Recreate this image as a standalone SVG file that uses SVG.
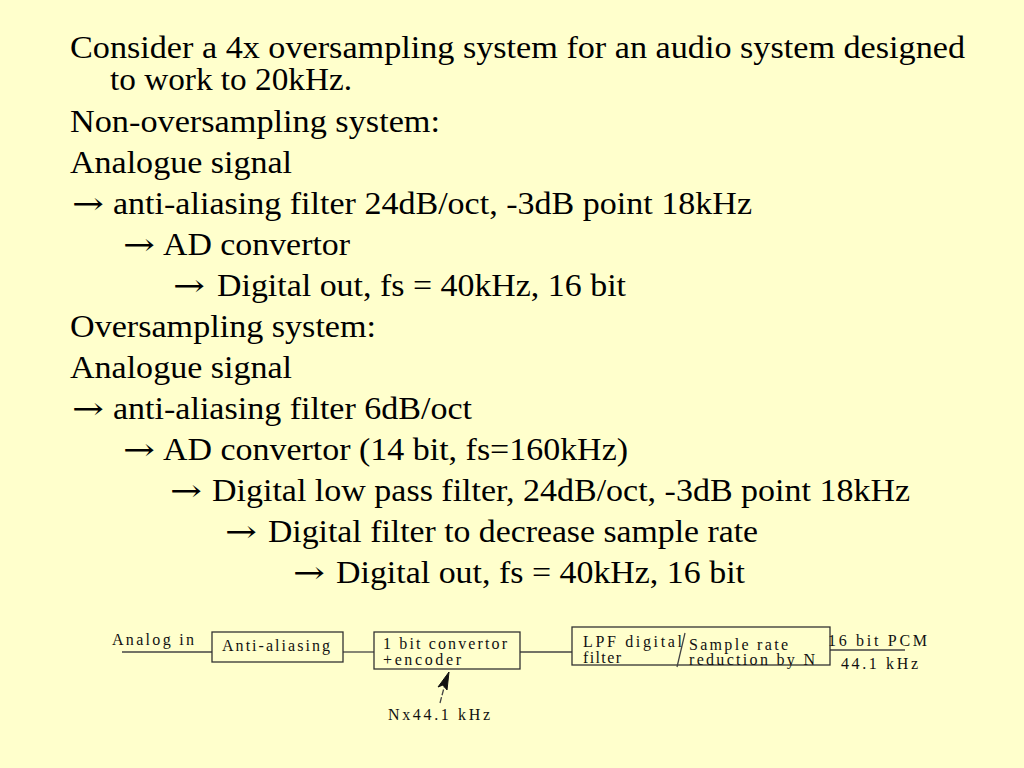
<svg xmlns="http://www.w3.org/2000/svg" width="1024" height="768" viewBox="0 0 1024 768">
<style>
.t{font-family:"Liberation Serif","DejaVu Serif",serif;font-size:32px;fill:#000}
.a{font-family:"DejaVu Serif","DejaVu Sans",serif;font-size:30px;fill:#000}
.s{font-family:"Liberation Serif","DejaVu Serif",serif;font-size:16px;fill:#111}
.box{fill:none;stroke:#333;stroke-width:1.3}
.ln{fill:none;stroke:#444;stroke-width:1.3}
</style>
<rect x="0" y="0" width="1024" height="768" fill="#FFFFCC"/>
<g id="text">
<text class="t" x="70" y="58" textLength="895" lengthAdjust="spacingAndGlyphs">Consider a 4x oversampling system for an audio system designed</text>
<text class="t" x="110" y="90" textLength="242" lengthAdjust="spacingAndGlyphs">to work to 20kHz.</text>
<text class="t" x="70" y="132" textLength="370" lengthAdjust="spacingAndGlyphs">Non-oversampling system:</text>
<text class="t" x="70" y="173" textLength="222" lengthAdjust="spacingAndGlyphs">Analogue signal</text>
<text class="a" x="72" y="214" textLength="32" lengthAdjust="spacingAndGlyphs">→</text>
<text class="t" x="113" y="214" textLength="639" lengthAdjust="spacingAndGlyphs">anti-aliasing filter 24dB/oct, -3dB point 18kHz</text>
<text class="a" x="123" y="255" textLength="32" lengthAdjust="spacingAndGlyphs">→</text>
<text class="t" x="163" y="255" textLength="187" lengthAdjust="spacingAndGlyphs">AD convertor</text>
<text class="a" x="173" y="296" textLength="32" lengthAdjust="spacingAndGlyphs">→</text>
<text class="t" x="217" y="296" textLength="409" lengthAdjust="spacingAndGlyphs">Digital out, fs = 40kHz, 16 bit</text>
<text class="t" x="70" y="337" textLength="306" lengthAdjust="spacingAndGlyphs">Oversampling system:</text>
<text class="t" x="70" y="378" textLength="222" lengthAdjust="spacingAndGlyphs">Analogue signal</text>
<text class="a" x="72" y="419" textLength="32" lengthAdjust="spacingAndGlyphs">→</text>
<text class="t" x="113" y="419" textLength="359" lengthAdjust="spacingAndGlyphs">anti-aliasing filter 6dB/oct</text>
<text class="a" x="123" y="460" textLength="32" lengthAdjust="spacingAndGlyphs">→</text>
<text class="t" x="163" y="460" textLength="465" lengthAdjust="spacingAndGlyphs">AD convertor (14 bit, fs=160kHz)</text>
<text class="a" x="170" y="501" textLength="32" lengthAdjust="spacingAndGlyphs">→</text>
<text class="t" x="212" y="501" textLength="698" lengthAdjust="spacingAndGlyphs">Digital low pass filter, 24dB/oct, -3dB point 18kHz</text>
<text class="a" x="225" y="542" textLength="32" lengthAdjust="spacingAndGlyphs">→</text>
<text class="t" x="268" y="542" textLength="490" lengthAdjust="spacingAndGlyphs">Digital filter to decrease sample rate</text>
<text class="a" x="293" y="583" textLength="32" lengthAdjust="spacingAndGlyphs">→</text>
<text class="t" x="336" y="583" textLength="409" lengthAdjust="spacingAndGlyphs">Digital out, fs = 40kHz, 16 bit</text>
</g>
<g id="connectors">
<line class="ln" x1="122" y1="652" x2="212" y2="652"/>
<line class="ln" x1="343" y1="652" x2="374" y2="652"/>
<line class="ln" x1="520" y1="652" x2="572" y2="652"/>
<line class="ln" x1="830" y1="650" x2="905" y2="650"/>
<line class="ln" x1="440" y1="703" x2="445" y2="684" stroke-dasharray="6 2"/>
<polygon points="449,672 438,687 443,685 447,690" fill="#111" stroke="#111" stroke-width="1"/>
</g>
<g id="label-analog-in">
<text class="s" x="112" y="645" textLength="82" lengthAdjust="spacing">Analog in</text>
</g>
<g id="node-anti-aliasing">
<rect class="box" x="212" y="632" width="131" height="30"/>
<text class="s" x="222" y="651" textLength="108" lengthAdjust="spacing">Anti-aliasing</text>
</g>
<g id="node-convertor">
<rect class="box" x="374" y="632" width="146" height="37"/>
<text class="s" x="383" y="649" textLength="124" lengthAdjust="spacing">1 bit convertor</text>
<text class="s" x="383" y="665" textLength="78" lengthAdjust="spacing">+encoder</text>
</g>
<g id="label-clock">
<text class="s" x="388" y="720" textLength="102" lengthAdjust="spacing">Nx44.1 kHz</text>
</g>
<g id="node-lpf">
<rect class="box" x="572" y="627" width="258" height="38"/>
<line class="ln" x1="685" y1="633" x2="677" y2="667"/>
<text class="s" x="583" y="647" textLength="99" lengthAdjust="spacing">LPF digital</text>
<text class="s" x="583" y="663" textLength="38" lengthAdjust="spacing">filter</text>
<text class="s" x="689" y="650" textLength="99" lengthAdjust="spacing">Sample rate</text>
<text class="s" x="689" y="665" textLength="126" lengthAdjust="spacing">reduction by N</text>
</g>
<g id="label-output">
<text class="s" x="828" y="646" textLength="99" lengthAdjust="spacing">16 bit PCM</text>
<text class="s" x="841" y="669" textLength="77" lengthAdjust="spacing">44.1 kHz</text>
</g>
</svg>
